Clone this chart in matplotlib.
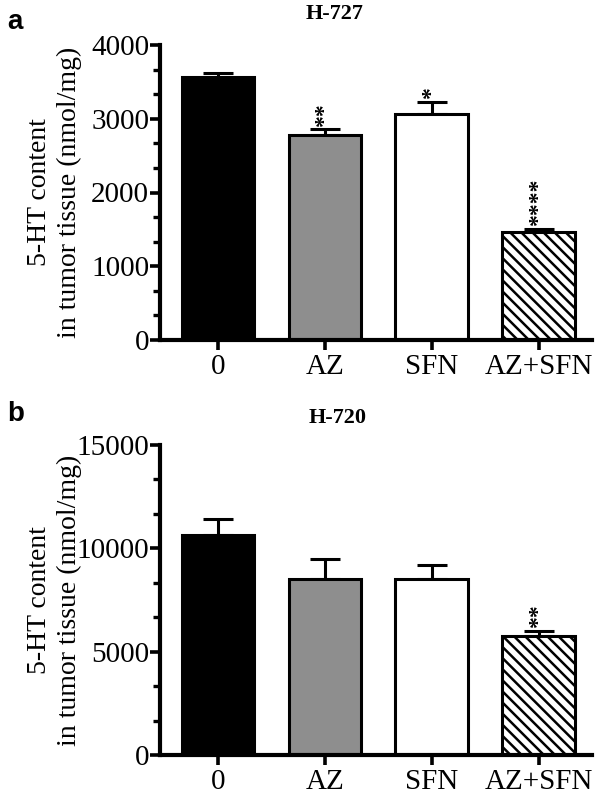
import matplotlib
matplotlib.use("Agg")
import matplotlib.pyplot as plt
from matplotlib.ticker import MultipleLocator

plt.rcParams['font.family'] = ['Liberation Serif', 'DejaVu Serif']
plt.rcParams['hatch.linewidth'] = 1.8

groups = ['0', 'AZ', 'SFN', 'AZ+SFN']
colors = ['black', '#8e8e8e', 'white', 'white']
hatches = [None, None, None, '\\\\\\']

h727_mean = [3570, 2780, 3060, 1460]
h727_sem = [55, 75, 165, 45]
h727_stars = ['', '**', '*', '****']

h720_mean = [10640, 8510, 8510, 5780]
h720_sem = [790, 990, 700, 210]
h720_stars = ['', '', '', '**']


def draw_panel(ax, means, sems, stars, ymax, major):
    x = range(len(groups))
    for i in x:
        ax.bar(i, means[i], width=0.68, color=colors[i], edgecolor='black',
               linewidth=2.2, hatch=hatches[i], zorder=2)
    ax.errorbar(list(x), means, yerr=[[0] * len(sems), sems], fmt='none',
                ecolor='black', elinewidth=2.2, capsize=11, capthick=2.2, zorder=1)
    for i in x:
        if stars[i]:
            ax.annotate(stars[i], (i, means[i] + sems[i]), xytext=(0, 2),
                        textcoords='offset points', ha='center', va='bottom',
                        rotation=90, fontsize=17, fontweight='bold')
    ax.set_xlim(-0.54, 3.5)
    ax.set_ylim(0, ymax)
    ax.yaxis.set_major_locator(MultipleLocator(major))
    ax.yaxis.set_minor_locator(MultipleLocator(major / 3))
    ax.set_xticks(list(x))
    ax.set_xticklabels(groups)
    for s in ['top', 'right']:
        ax.spines[s].set_visible(False)
    for s in ['left', 'bottom']:
        ax.spines[s].set_linewidth(3)
    ax.tick_params(axis='both', which='major', width=2.6, length=7, labelsize=21)
    ax.tick_params(axis='x', pad=3)
    ax.tick_params(axis='y', pad=1)
    ax.tick_params(axis='y', which='minor', width=2.4, length=5)
    ax.set_ylabel('5-HT content\nin tumor tissue (nmol/mg)', fontsize=20,
                  linespacing=1.3)
    ax.yaxis.set_label_coords(-0.18, 0.5)


fig = plt.figure(figsize=(6, 7.98), dpi=100)
ax1 = fig.add_axes([0.267, 1 - 340 / 798, 0.72, 295 / 798])
ax2 = fig.add_axes([0.267, 1 - 755 / 798, 0.72, 310 / 798])

draw_panel(ax1, h727_mean, h727_sem, h727_stars, 4000, 1000)
draw_panel(ax2, h720_mean, h720_sem, h720_stars, 15000, 5000)

fig.text(335 / 600, 1 - 14 / 798, 'H-727', ha='center', va='center',
         fontsize=16, fontweight='bold')
fig.text(338 / 600, 1 - 418 / 798, 'H-720', ha='center', va='center',
         fontsize=16, fontweight='bold')
fig.text(0.012, 1 - 22 / 798, 'a', ha='left', va='center', fontsize=20,
         fontweight='bold', family='Liberation Sans')
fig.text(0.012, 1 - 414 / 798, 'b', ha='left', va='center', fontsize=20,
         fontweight='bold', family='Liberation Sans')

fig.savefig('out.png', dpi=100)
